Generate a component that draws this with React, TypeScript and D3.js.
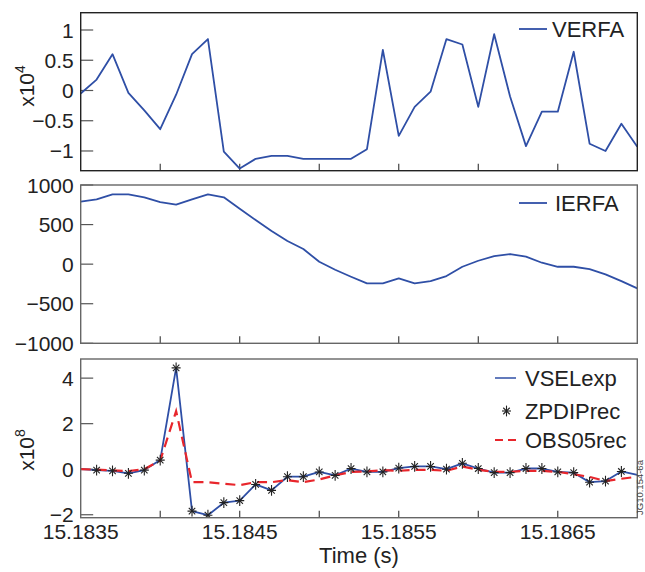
import React from "react";
import * as d3 from "d3";

const times = [
  15.1835, 15.1836, 15.1837, 15.1838, 15.1839, 15.184, 15.1841, 15.1842, 15.1843, 15.1844,
  15.1845, 15.1846, 15.1847, 15.1848, 15.1849, 15.185, 15.1851, 15.1852, 15.1853, 15.1854,
  15.1855, 15.1856, 15.1857, 15.1858, 15.1859, 15.186, 15.1861, 15.1862, 15.1863, 15.1864,
  15.1865, 15.1866, 15.1867, 15.1868, 15.1869, 15.187,
];

const verfa = [
  -0.05, 0.18, 0.6, -0.04, -0.33, -0.64, -0.07, 0.6, 0.85, -1.01,
  -1.29, -1.13, -1.08, -1.08, -1.13, -1.13, -1.13, -1.13, -0.97, 0.67,
  -0.75, -0.27, -0.02, 0.85, 0.76, -0.27, 0.93, -0.1, -0.92, -0.35,
  -0.35, 0.64, -0.88, -1.0, -0.55, -0.93,
];

const ierfa = [
  789, 819, 882, 882, 844, 785, 751, 819, 882, 844,
  700, 557, 418, 292, 191, 30, -71, -159, -243, -243,
  -180, -243, -214, -150, -33, 43, 102, 128, 94, 18,
  -33, -33, -62, -129, -214, -306,
];

const vselexp = [
  0.0, -0.04, -0.07, -0.18, -0.04, 0.4, 4.45, -1.84, -2.02, -1.47,
  -1.38, -0.67, -0.93, -0.33, -0.33, -0.12, -0.27, 0.03, -0.12, -0.12,
  0.05, 0.12, 0.12, 0.0, 0.26, 0.03, -0.15, -0.15, 0.03, 0.03,
  -0.12, -0.15, -0.57, -0.52, -0.1, -0.25,
];

const zpdiTimes = times.slice(1, 35);
const zpdiprec = [
  -0.04, -0.07, -0.18, -0.04, 0.4, 4.45, -1.84, -2.02, -1.47,
  -1.38, -0.67, -0.93, -0.33, -0.33, -0.12, -0.27, 0.03, -0.12, -0.12,
  0.05, 0.12, 0.12, 0.0, 0.26, 0.03, -0.15, -0.15, 0.03, 0.03,
  -0.12, -0.15, -0.57, -0.52, -0.1,
];

const obs05rec = [
  0.0, -0.02, -0.05, -0.08, 0.0, 0.38, 2.55, -0.57, -0.57, -0.64,
  -0.7, -0.57, -0.57, -0.48, -0.57, -0.45, -0.27, -0.12, -0.1, -0.04,
  -0.07, -0.03, -0.03, -0.07, 0.12, -0.03, -0.12, -0.12, -0.07, -0.07,
  -0.12, -0.22, -0.34, -0.52, -0.42, -0.33,
];

const xTicks = [15.184, 15.1845, 15.185, 15.1855, 15.186, 15.1865];
const xLabelTicks = [15.1835, 15.1845, 15.1855, 15.1865];
const y1Ticks = [1, 0.5, 0, -0.5, -1];
const y2Ticks = [1000, 500, 0, -500, -1000];
const y3Ticks = [4, 2, 0, -2];

const BLUE = "#2f4fa6";
const RED = "#e8262c";
const FONT = "'Liberation Sans', Arial, Helvetica, sans-serif";

const L = 80.7;
const R = 637.3;
const x = d3.scaleLinear().domain([15.1835, 15.187]).range([L, R]);

const panels = [
  { top: 12.7, bottom: 170.7, domain: [-1.326, 1.286], ticks: y1Ticks },
  { top: 185, bottom: 343.3, domain: [-1000, 1000], ticks: y2Ticks },
  { top: 359, bottom: 517.7, domain: [-2.13, 4.84], ticks: y3Ticks },
];

const fmt = (v: number) => (v < 0 ? "\u2212" + String(Math.abs(v)) : String(v));

function Star({ cx, cy, r }: { cx: number; cy: number; r: number }) {
  const d = r * 0.72;
  return (
    <g stroke="#222" strokeWidth={1.1}>
      <line x1={cx} y1={cy - r * 1.2} x2={cx} y2={cy + r * 1.2} />
      <line x1={cx - r} y1={cy} x2={cx + r} y2={cy} />
      <line x1={cx - d} y1={cy - d} x2={cx + d} y2={cy + d} />
      <line x1={cx - d} y1={cy + d} x2={cx + d} y2={cy - d} />
    </g>
  );
}

export default function App() {
  const ys = panels.map((p) => d3.scaleLinear().domain(p.domain).range([p.bottom, p.top]));
  const line = (ysc: d3.ScaleLinear<number, number>, vals: number[], ts: number[]) =>
    d3
      .line<number>()
      .x((_, i) => x(ts[i]))
      .y((v) => ysc(v))(vals) || "";

  return (
    <svg
      width={645}
      height={572}
      style={{ position: "absolute", left: 0, top: 0, background: "#fff" }}
      fontFamily={FONT}
    >
      <defs>
        {panels.map((p, i) => (
          <clipPath id={`clip${i}`} key={i}>
            <rect x={L} y={p.top} width={R - L} height={p.bottom - p.top} />
          </clipPath>
        ))}
      </defs>

      {panels.map((p, i) => (
        <g key={i}>
          {p.ticks.map((t) => (
            <g key={t}>
              <line x1={L} x2={L + 12.5} y1={ys[i](t)} y2={ys[i](t)} stroke="#555" strokeWidth={1.2} />
              <text
                x={L - 7}
                y={ys[i](t)}
                textAnchor="end"
                dominantBaseline="central"
                fontSize={21}
                fill="#222"
              >
                {fmt(t)}
              </text>
            </g>
          ))}
          {xTicks.map((t) => (
            <line key={t} x1={x(t)} x2={x(t)} y1={p.bottom} y2={p.bottom - 7} stroke="#333" strokeWidth={1.1} />
          ))}
        </g>
      ))}

      <g clipPath="url(#clip0)">
        <path d={line(ys[0], verfa, times)} fill="none" stroke={BLUE} strokeWidth={1.8} strokeLinejoin="round" />
      </g>
      <g clipPath="url(#clip1)">
        <path d={line(ys[1], ierfa, times)} fill="none" stroke={BLUE} strokeWidth={1.8} strokeLinejoin="round" />
      </g>
      <g clipPath="url(#clip2)">
        <path d={line(ys[2], vselexp, times)} fill="none" stroke={BLUE} strokeWidth={1.8} strokeLinejoin="round" />
        <path
          d={line(ys[2], obs05rec, times)}
          fill="none"
          stroke={RED}
          strokeWidth={2.2}
          strokeDasharray="10,6"
        />
        {zpdiprec.map((v, i) => (
          <Star key={i} cx={x(zpdiTimes[i])} cy={ys[2](v)} r={4.5} />
        ))}
      </g>

      {panels.map((p, i) => (
        <rect
          key={i}
          x={L}
          y={p.top}
          width={R - L}
          height={p.bottom - p.top}
          fill="none"
          stroke={i === 0 ? "#222" : "#666"}
          strokeWidth={1.4}
        />
      ))}

      {xLabelTicks.map((t) => (
        <text key={t} x={x(t)} y={539} textAnchor="middle" fontSize={21} fill="#222">
          {t.toFixed(4)}
        </text>
      ))}
      <text x={(L + R) / 2} y={563} textAnchor="middle" fontSize={22} fill="#222">
        Time (s)
      </text>

      <text transform="translate(34,86) rotate(-90)" textAnchor="middle" fontSize={21} fill="#222">
        x10<tspan dy={-9} fontSize={14}>4</tspan>
      </text>
      <text transform="translate(34,450) rotate(-90)" textAnchor="middle" fontSize={21} fill="#222">
        x10<tspan dy={-9} fontSize={14}>8</tspan>
      </text>

      <line x1={519} x2={547} y1={29} y2={29} stroke={BLUE} strokeWidth={1.8} />
      <text x={552} y={37} fontSize={22} fill="#222">VERFA</text>

      <line x1={519} x2={547} y1={203} y2={203} stroke={BLUE} strokeWidth={1.8} />
      <text x={555} y={211} fontSize={22} fill="#222">IERFA</text>

      <line x1={495} x2={516} y1={378} y2={378} stroke={BLUE} strokeWidth={1.5} />
      <text x={525} y={386} fontSize={22} fill="#222">VSELexp</text>
      <Star cx={506.5} cy={411} r={4.5} />
      <text x={525} y={419} fontSize={22} fill="#222">ZPDIPrec</text>
      <line x1={495} x2={516} y1={440} y2={440} stroke={RED} strokeWidth={2.2} strokeDasharray="8,5" />
      <text x={525} y={448} fontSize={22} fill="#222">OBS05rec</text>

      <text
        transform="translate(645,515) rotate(-90)"
        fontSize={9.5}
        dominantBaseline="text-after-edge"
        fill="#444"
      >
        JG10.154-6a
      </text>
    </svg>
  );
}
